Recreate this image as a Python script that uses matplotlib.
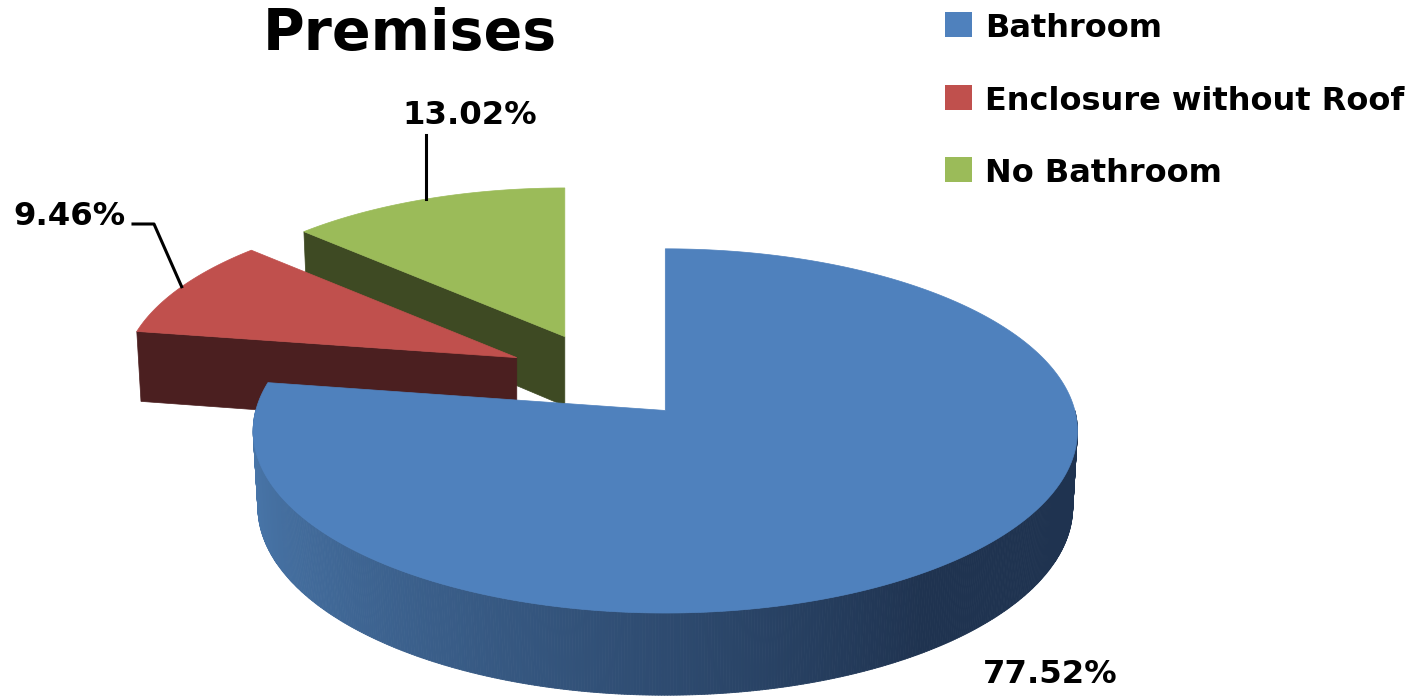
import numpy as np
import matplotlib
matplotlib.use("Agg")
import matplotlib.pyplot as plt
from matplotlib.patches import Polygon, Rectangle
from matplotlib.collections import PolyCollection
from matplotlib.colors import to_rgb

# ---------------- data ----------------
title = "Premises"
categories = ["Bathroom", "Enclosure without Roof", "No Bathroom"]
values = [77.52, 9.46, 13.02]
value_labels = ["77.52%", "9.46%", "13.02%"]

# ---------------- style ----------------
top_colors = ["#4F81BD", "#C0504D", "#9BBB59"]
side_light = ["#4A78AC", "#8A3A38", "#6E8540"]
side_dark = ["#1F3350", "#4B1F20", "#3E4A23"]
FONT = "DejaVu Sans"

W, H = 1421, 696
fig = plt.figure(figsize=(W / 100, H / 100), dpi=100)
ax = fig.add_axes([0, 0, 1, 1])
ax.set_xlim(0, W)
ax.set_ylim(H, 0)
ax.axis("off")

# ---------------- 3D pie geometry (layout parameters) ----------------
C0 = np.array([603.0, 377.0])
EX, EY = 96.0, 44.0          # explode offsets in screen pixels
SX, SY = 398.0, 394.0        # radius scale
GX, GY = 0.037, 0.05         # depth-dependent scale for exploded slices
SA = 0.439
CA = np.sqrt(1 - SA ** 2)
KP = 0.125                   # perspective strength
DEPTH = 0.207

fracs = np.array(values) / np.sum(values)
slices = []
a = np.pi / 2
for fr in fracs:
    t2 = a
    t1 = a - fr * 2 * np.pi
    slices.append((t1, t2))
    a = t1
mids = [(t1 + t2) / 2 for t1, t2 in slices]


def proj(i, t, z, r=1.0):
    m = mids[i]
    cx = C0[0] + EX * np.cos(m)
    cy = C0[1] - EY * np.sin(m)
    fx = 1 / (1 + GX * np.sin(m))
    fy = 1 / (1 + GY * np.sin(m))
    x = np.cos(t) * r
    y = np.sin(t) * r
    den = 1 + KP * (y * CA - z * SA)
    u = SX * fx * x / den
    v = -SY * fy * (y * SA + z * CA) / den
    return cx + u, cy + v


def mix(c1, c2, w):
    c1 = np.array(to_rgb(c1))
    c2 = np.array(to_rgb(c2))
    return tuple(c1 + (c2 - c1) * w)


order = sorted(range(len(values)), key=lambda i: -np.sin(mids[i]))
for i in order:
    t1, t2 = slices[i]
    zb = -DEPTH
    # radial faces
    for t, vis in ((t1, np.cos(t1) > 1e-6), (t2, np.cos(t2) < -1e-6)):
        if vis:
            pts = [proj(i, t, 0, 0), proj(i, t, 0), proj(i, t, zb), proj(i, t, zb, 0)]
            ax.add_patch(Polygon(pts, closed=True, facecolor=side_dark[i],
                                 edgecolor=side_dark[i], lw=0.5, zorder=2))
    # outer curved side
    ts = np.linspace(t1, t2, 720)
    polys, cols = [], []
    for ta, tb in zip(ts[:-1], ts[1:]):
        tm = (ta + tb) / 2
        if np.sin(tm) < 0:
            deg = np.degrees(tm) % 360
            w = np.clip((deg - 180) / 125, 0, 1) ** 1.3
            polys.append([proj(i, ta, 0), proj(i, tb, 0), proj(i, tb, zb), proj(i, ta, zb)])
            cols.append(mix(side_light[i], side_dark[i], w))
    if polys:
        ax.add_collection(PolyCollection(polys, facecolors=cols, edgecolors=cols,
                                         linewidths=0.6, zorder=2))
    # top face
    arc = [proj(i, t, 0) for t in np.linspace(t1, t2, 400)]
    pts = [proj(i, 0, 0, 0)] + arc
    ax.add_patch(Polygon(pts, closed=True, facecolor=top_colors[i],
                         edgecolor=top_colors[i], lw=0.5, zorder=2))

# ---------------- data labels ----------------
lab_fs = 23.3
label_pos = {0: (1050, 683), 1: (69, 225), 2: (470, 124)}
for i, (x, y) in label_pos.items():
    ax.text(x, y, value_labels[i], ha="center", va="baseline", fontsize=lab_fs,
            fontweight="bold", family=FONT, color="black", zorder=5)

# leader lines
mx, my = proj(2, mids[2], 0)
ax.plot([mx, mx], [my, 135], color="black", lw=2.2, zorder=4)
mx, my = proj(1, mids[1], 0)
ax.plot([133, 154, mx], [224, 224, my], color="black", lw=2.2, zorder=4)

# ---------------- title ----------------
ax.text(410, 50, title, ha="center", va="baseline", fontsize=41,
        fontweight="bold", family=FONT, color="black")

# ---------------- legend ----------------
for k, lab in enumerate(categories):
    yb = 37 + k * 72.5
    ax.add_patch(Rectangle((945, yb - 25), 27, 25, facecolor=top_colors[k],
                           edgecolor="none"))
    ax.text(985, yb, lab, ha="left", va="baseline", fontsize=23,
            fontweight="bold", family=FONT, color="black")

fig.savefig("out.png", dpi=100)
